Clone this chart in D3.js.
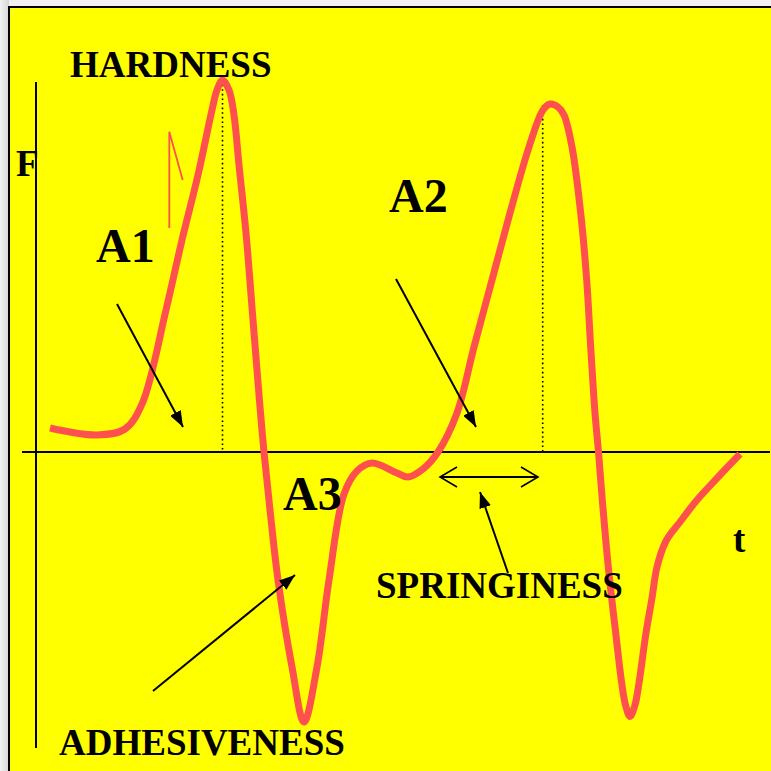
<!DOCTYPE html>
<html>
<head>
<meta charset="utf-8">
<script src="https://cdn.jsdelivr.net/npm/d3@7"></script>
<style>
  html, body { margin: 0; padding: 0; background: #ececec; }
  svg { display: block; }
  text { font-family: "Liberation Serif", "Times New Roman", serif; font-weight: bold; fill: #000; }
</style>
</head>
<body>
<script>
// Texture profile curve: force F against time t (arbitrary units)
const timeT = [14, 61, 89, 106, 130, 146, 162, 176, 181, 186.5, 193, 198, 203, 210, 217, 224, 228,
               234, 242, 256, 268, 281, 293, 308, 321, 336, 361, 372, 387, 402, 421, 438, 456,
               474, 493, 507, 514, 522, 528, 536, 544.7, 550.7, 554.7, 559, 562.5, 566.3, 572.3,
               579.7, 585.7, 589.5, 594, 599, 603, 610, 616, 621, 630, 644, 661, 684, 704];
const forceF = [24, 17, 23, 48, 142, 212, 277, 342, 362, 372, 362, 337, 287, 219, 132, 45, 0,
                -58, -128, -215, -270, -215, -128, -42, -19, -11, -21, -25, -17, 0, 39, 105, 172,
                239, 305, 342, 348, 345, 337, 305, 239, 172, 105, 39, 0, -48, -115,
                -181, -231, -253, -264.5, -253, -231, -181, -146, -115, -89, -70, -48, -23, -2];

// Axis extents
const tAxisRange = [-14, 734];
const fAxisRange = [-296, 370];

// Vertical dotted guides at the two compression peaks: [t, F]
const peakGuides = [[186.5, 372], [506.7, 347]];

// Pointer arrows: [tFrom, fFrom, tTo, fTo]
const pointerArrows = [
  [81, 148, 147, 25],      // A1
  [360, 173, 440, 25],     // A2
  [117, -239, 259, -123],  // adhesiveness
  [472, -121, 444, -40]    // springiness
];
// Springiness span: [tStart, tEnd, F]
const springSpan = [404, 502, -25];

// Small red stroke mark near the first rise
const tickMark = [[133.3, 224], [133.3, 320.3], [146.7, 272]];

// Text labels
const labelText = ["HARDNESS", "F", "A1", "A2", "A3", "ADHESIVENESS", "SPRINGINESS", "t"];

const W = 771, H = 771;
const svg = d3.select("body").append("svg").attr("width", W).attr("height", H);

// Page frame
const grad = svg.append("defs").append("linearGradient").attr("id", "side")
  .attr("x1", 0).attr("x2", 1).attr("y1", 0).attr("y2", 0);
grad.append("stop").attr("offset", 0).attr("stop-color", "#f2f2f2");
grad.append("stop").attr("offset", 1).attr("stop-color", "#d6d6d6");
svg.append("rect").attr("x", 0).attr("y", 0).attr("width", W).attr("height", H).attr("fill", "#f0f0f0");
svg.append("rect").attr("x", 0).attr("y", 0).attr("width", 9).attr("height", H).attr("fill", "url(#side)");
svg.append("rect").attr("x", 8).attr("y", 6).attr("width", W - 8).attr("height", H - 6).attr("fill", "#000");
svg.append("rect").attr("x", 10).attr("y", 8).attr("width", W - 10).attr("height", H - 8).attr("fill", "#ffff00");

const x = d3.scaleLinear().domain([0, 734]).range([36, 770]);
const y = d3.scaleLinear().domain([-370, 370]).range([822, 82]);

// Markers
const defs = svg.select("defs");
defs.append("marker").attr("id", "head")
  .attr("viewBox", "0 0 16 12").attr("refX", 16).attr("refY", 6)
  .attr("markerWidth", 16).attr("markerHeight", 12)
  .attr("markerUnits", "userSpaceOnUse").attr("orient", "auto")
  .append("path").attr("d", "M0,0 L16,6 L0,12 Z").attr("fill", "#000");
defs.append("marker").attr("id", "chev")
  .attr("viewBox", "0 0 20 22").attr("refX", 18).attr("refY", 11)
  .attr("markerWidth", 20).attr("markerHeight", 22)
  .attr("markerUnits", "userSpaceOnUse").attr("orient", "auto-start-reverse")
  .append("path").attr("d", "M1,1 L18,11 L1,21").attr("fill", "none")
  .attr("stroke", "#000").attr("stroke-width", 1.6);

// Axes
svg.append("line")
  .attr("x1", x(0)).attr("x2", x(0))
  .attr("y1", y(fAxisRange[1])).attr("y2", y(fAxisRange[0]))
  .attr("stroke", "#000").attr("stroke-width", 2);
svg.append("line")
  .attr("x1", x(tAxisRange[0])).attr("x2", x(tAxisRange[1]))
  .attr("y1", y(0)).attr("y2", y(0))
  .attr("stroke", "#000").attr("stroke-width", 2);

// Peak guides
svg.selectAll("line.guide").data(peakGuides).join("line").attr("class", "guide")
  .attr("x1", d => x(d[0])).attr("x2", d => x(d[0]))
  .attr("y1", d => y(d[1])).attr("y2", y(0))
  .attr("stroke", "#000").attr("stroke-width", 1.6).attr("stroke-dasharray", "1.6,3");

// Small red mark
svg.append("path")
  .attr("d", d3.line().x(d => x(d[0])).y(d => y(d[1]))(tickMark))
  .attr("fill", "none").attr("stroke", "#ff5050").attr("stroke-width", 1.8);

// Force curve
const pts = timeT.map((t, i) => [t, forceF[i]]);
svg.append("path")
  .attr("d", d3.line().x(d => x(d[0])).y(d => y(d[1])).curve(d3.curveCatmullRom.alpha(0.5))(pts))
  .attr("fill", "none").attr("stroke", "#ff5050").attr("stroke-width", 7)
  .attr("stroke-linejoin", "round");

// Pointer arrows
svg.selectAll("line.ptr").data(pointerArrows).join("line").attr("class", "ptr")
  .attr("x1", d => x(d[0])).attr("y1", d => y(d[1]))
  .attr("x2", d => x(d[2])).attr("y2", d => y(d[3]))
  .attr("stroke", "#000").attr("stroke-width", 2)
  .attr("marker-end", "url(#head)");

// Springiness span
svg.append("line")
  .attr("x1", x(springSpan[0])).attr("x2", x(springSpan[1]))
  .attr("y1", y(springSpan[2])).attr("y2", y(springSpan[2]))
  .attr("stroke", "#000").attr("stroke-width", 2)
  .attr("marker-start", "url(#chev)").attr("marker-end", "url(#chev)");

// Labels
const labelPos = [[70, 77, 37], [16, 176, 37], [96, 262, 48], [389, 212, 48],
                  [283, 510, 48], [59, 755, 37], [376, 598, 37], [733, 552, 37]];
svg.selectAll("text.lbl").data(labelText).join("text").attr("class", "lbl")
  .attr("x", (d, i) => labelPos[i][0]).attr("y", (d, i) => labelPos[i][1])
  .attr("font-size", (d, i) => labelPos[i][2])
  .text(d => d);
</script>
</body>
</html>
